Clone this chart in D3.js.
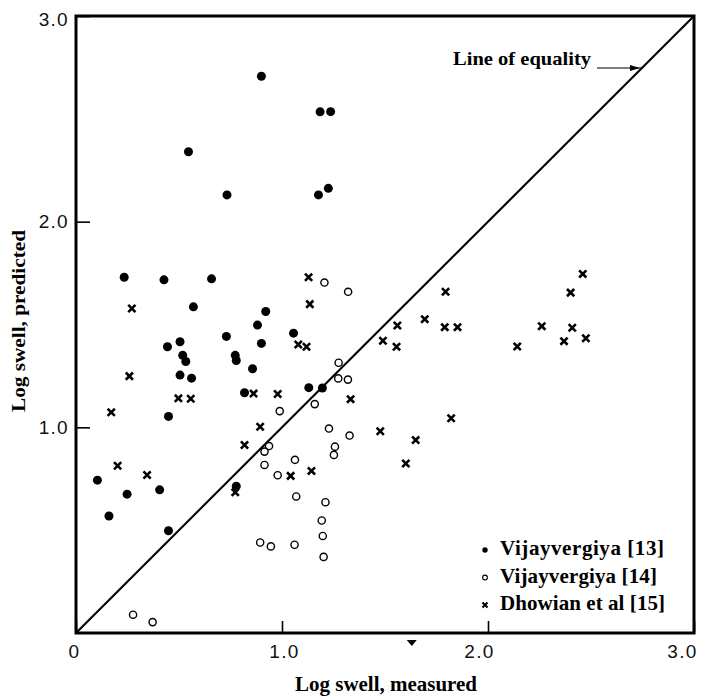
<!DOCTYPE html>
<html><head><meta charset="utf-8">
<script src="https://cdn.jsdelivr.net/npm/d3@7"></script>
<style>body{margin:0;background:#fff}svg{display:block}</style>
</head><body>
<svg id="c" width="714" height="697"></svg>
<script>
// ---- data (log swell measured, log swell predicted) ----
const vij13 = [
  [0.546,2.340],[0.733,2.130],[0.900,2.707],[1.185,2.534],[1.236,2.535],[1.177,2.130],[1.225,2.162],
  [0.234,1.730],[0.427,1.717],[0.658,1.722],[0.570,1.586],[0.730,1.442],[0.444,1.392],[0.505,1.416],
  [0.518,1.350],[0.533,1.320],[0.773,1.350],[0.778,1.325],[0.505,1.254],[0.561,1.239],[0.449,1.053],
  [0.921,1.563],[0.881,1.497],[0.900,1.408],[1.056,1.458],[0.857,1.285],[0.818,1.168],[1.130,1.193],
  [1.196,1.191],[0.104,0.743],[0.248,0.675],[0.160,0.569],[0.406,0.696],[0.449,0.497],[0.778,0.714]
];
const vij14 = [
  [1.206,1.704],[1.321,1.659],[1.275,1.314],[1.273,1.238],[1.320,1.232],[1.159,1.113],[0.989,1.079],
  [1.228,0.994],[1.328,0.960],[0.937,0.909],[0.915,0.882],[1.257,0.906],[1.252,0.866],[1.063,0.842],
  [0.915,0.817],[0.979,0.767],[1.069,0.664],[1.211,0.636],[1.193,0.547],[1.198,0.472],[1.202,0.370],
  [0.894,0.440],[0.946,0.421],[1.061,0.429],[0.277,0.089],[0.372,0.053]
];
const dhowian15 = [
  [1.129,1.730],[1.135,1.599],[1.079,1.403],[1.119,1.392],[0.862,1.164],[0.979,1.162],[0.894,1.003],
  [0.818,0.914],[1.333,1.137],[1.490,1.421],[1.560,1.495],[1.556,1.392],[1.693,1.526],[1.794,1.659],
  [1.790,1.487],[1.852,1.487],[1.821,1.044],[1.477,0.981],[1.649,0.938],[1.601,0.824],[1.143,0.788],
  [1.042,0.764],[2.460,1.746],[2.401,1.655],[2.261,1.492],[2.409,1.484],[2.369,1.419],[2.475,1.433],
  [2.142,1.393],[0.271,1.578],[0.259,1.249],[0.497,1.141],[0.557,1.139],[0.171,1.073],[0.202,0.813],
  [0.345,0.768],[0.773,0.684]
];
const xTicks = [0, 1, 2, 3];
const xTickLabels = ["0", "1.0", "2.0", "3.0"];
const yTicks = [1, 2, 3];
const yTickLabels = ["1.0", "2.0", "3.0"];
const legendLabels = ["Vijayvergiya [13]", "Vijayvergiya [14]", "Dhowian et al [15]"];
const equalityLine = [[0,0],[3,3]];
const arrowMark = 1.63; // small mark under x axis

// ---- drawing ----
const svg = d3.select("#c");
const x = d3.scaleLinear().domain([0,3]).range([76,694]);
const y = d3.scaleLinear().domain([0,3]).range([633,16]);
const serif = "'Liberation Serif','Times New Roman',serif";
const sans = "'Liberation Sans',Arial,sans-serif";

// axes (inner ticks)
const xLabelShift = [-2, 2, -9, -12];
const xa = svg.append("g").attr("transform","translate(0,633)")
  .call(d3.axisBottom(x).tickValues(xTicks).tickSize(-12).tickPadding(12)
    .tickFormat((d,i)=>xTickLabels[i]));
const ya = svg.append("g").attr("transform","translate(76,0)")
  .call(d3.axisLeft(y).tickValues(yTicks).tickSize(-14).tickPadding(7)
    .tickFormat((d,i)=>yTickLabels[i]));
[xa,ya].forEach(g=>{
  g.select(".domain").remove();
  g.selectAll(".tick line").attr("stroke","#000").attr("stroke-width",1.6);
  g.selectAll(".tick text").attr("fill","#111").style("font-family",sans)
    .style("font-size","19px").style("letter-spacing","1.3px");
});
xa.selectAll(".tick text").attr("dx",(d,i)=>xLabelShift[i]);
ya.selectAll(".tick text").attr("dy",(d,i)=> i===2 ? "0.5em" : "0.32em");

// frame
svg.append("rect").attr("x",x(0)).attr("y",y(3)).attr("width",x(3)-x(0)).attr("height",y(0)-y(3))
  .attr("fill","none").attr("stroke","#000").attr("stroke-width",3);

// line of equality
svg.append("path").attr("d",d3.line().x(d=>x(d[0])).y(d=>y(d[1]))(equalityLine))
  .attr("fill","none").attr("stroke","#000").attr("stroke-width",2.1);

// markers
svg.append("g").selectAll("circle").data(vij13).join("circle")
  .attr("cx",d=>x(d[0])).attr("cy",d=>y(d[1])).attr("r",4.5).attr("fill","#000");
svg.append("g").selectAll("circle").data(vij14).join("circle")
  .attr("cx",d=>x(d[0])).attr("cy",d=>y(d[1])).attr("r",3.6)
  .attr("fill","#fff").attr("stroke","#000").attr("stroke-width",1.4);
const cross = (s)=>`M${-s},${-s}L${s},${s}M${-s},${s}L${s},${-s}`;
svg.append("g").selectAll("path").data(dhowian15).join("path")
  .attr("transform",d=>`translate(${x(d[0])},${y(d[1])})`)
  .attr("d",cross(3.6)).attr("stroke","#000").attr("stroke-width",2.6).attr("fill","none");

// annotation "Line of equality"
svg.append("text").attr("x",453).attr("y",65).attr("textLength",138).attr("lengthAdjust","spacingAndGlyphs")
  .attr("font-family",serif).attr("font-weight","bold").attr("font-size",19).text("Line of equality");
const ay = 68, axEnd = x(y.invert(ay));
svg.append("line").attr("x1",597).attr("x2",axEnd).attr("y1",ay).attr("y2",ay)
  .attr("stroke","#000").attr("stroke-width",1.2);
svg.append("path").attr("d",`M${axEnd-2},${ay}L${axEnd-12},${ay-3}L${axEnd-12},${ay+3}Z`).attr("fill","#000");

// small mark under x axis
svg.append("path").attr("transform",`translate(${x(arrowMark)},640)`)
  .attr("d","M-5,0L5,0L0,6Z").attr("fill","#000");

// axis titles
svg.append("text").attr("x",295).attr("y",691).attr("textLength",182).attr("lengthAdjust","spacingAndGlyphs")
  .attr("font-family",serif).attr("font-weight","bold").attr("font-size",20).text("Log swell, measured");
svg.append("text").attr("transform","translate(25,412) rotate(-90)").attr("textLength",182)
  .attr("lengthAdjust","spacingAndGlyphs")
  .attr("font-family",serif).attr("font-weight","bold").attr("font-size",19).text("Log swell, predicted");

// legend
const legendWidths = [164, 157, 165];
const lg = svg.append("g").attr("transform","translate(485,550)");
legendLabels.forEach((t,i)=>{
  const row = lg.append("g").attr("transform",`translate(0,${i*27.5})`);
  if(i===0) row.append("circle").attr("r",2.7).attr("fill","#000");
  if(i===1) row.append("circle").attr("r",2.4).attr("fill","#fff").attr("stroke","#000").attr("stroke-width",1.1);
  if(i===2) row.append("path").attr("d",cross(2.5)).attr("stroke","#000").attr("stroke-width",2);
  row.append("text").attr("x",15).attr("y",5).attr("textLength",legendWidths[i]).attr("lengthAdjust","spacing")
    .attr("font-family",serif).attr("font-weight","bold").attr("font-size",21).text(t);
});
</script>
</body></html>
